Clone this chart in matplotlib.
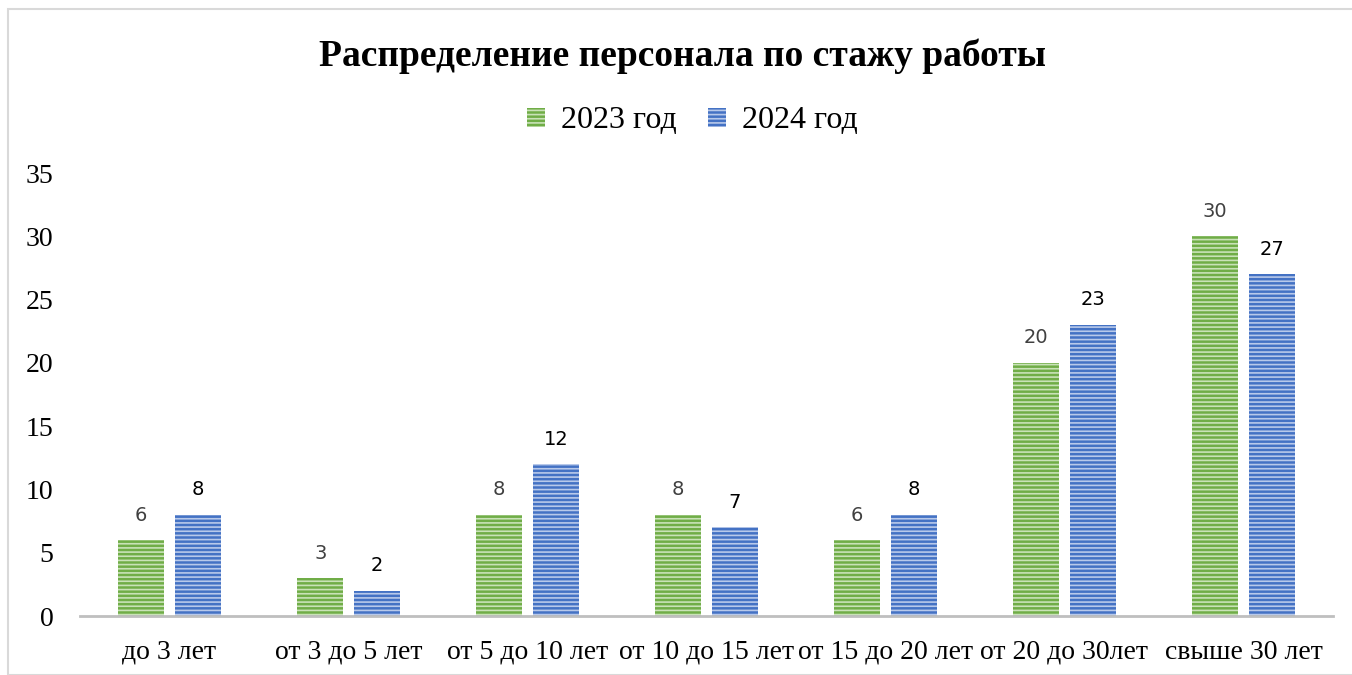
import numpy as np
import matplotlib
matplotlib.use("Agg")
import matplotlib.pyplot as plt
from matplotlib.patches import Rectangle, Patch

categories = ["до 3 лет", "от 3 до 5 лет", "от 5 до 10 лет", "от 10 до 15 лет",
              "от 15 до 20 лет", "от 20 до 30лет", "свыше 30 лет"]
values_2023 = [6, 3, 8, 8, 6, 20, 30]
values_2024 = [8, 2, 12, 7, 8, 23, 27]
series_names = ["2023 год", "2024 год"]
y_ticks = [0, 5, 10, 15, 20, 25, 30, 35]

GREEN = "#70ad47"
GREEN_LIGHT = "#c9e2b8"
BLUE = "#4472c4"
BLUE_LIGHT = "#b8c9ea"

plt.rcParams["hatch.linewidth"] = 1.2
serif = "Liberation Serif"

fig = plt.figure(figsize=(13.52, 6.75), dpi=100)
ax = fig.add_axes([80 / 1352, 59 / 675, 1253 / 1352, 443 / 675])

x = np.arange(len(categories))
width = 0.256
offset = 0.158

bars1 = ax.bar(x - offset, values_2023, width, color=GREEN, edgecolor=GREEN_LIGHT,
               linewidth=0, hatch="----")
bars2 = ax.bar(x + offset, values_2024, width, color=BLUE, edgecolor=BLUE_LIGHT,
               linewidth=0, hatch="----")

for bar, v in zip(bars1, values_2023):
    ax.annotate(str(v), (bar.get_x() + bar.get_width() / 2, v), xytext=(0, 18),
                textcoords="offset points", ha="center", va="center",
                fontsize=14, color="#404040", family="DejaVu Sans")
for bar, v in zip(bars2, values_2024):
    ax.annotate(str(v), (bar.get_x() + bar.get_width() / 2, v), xytext=(0, 18),
                textcoords="offset points", ha="center", va="center",
                fontsize=14, color="black", family="DejaVu Sans")

ax.set_xlim(-0.5, len(categories) - 0.5)
ax.set_ylim(0, 35)
ax.set_yticks(y_ticks)
ax.set_yticklabels([str(t) for t in y_ticks], family=serif, fontsize=20)
ax.set_xticks(x)
ax.set_xticklabels(categories, family=serif, fontsize=20)
ax.tick_params(axis="both", length=0)
ax.tick_params(axis="y", pad=19)
ax.tick_params(axis="x", pad=17)
for side in ["top", "right", "left"]:
    ax.spines[side].set_visible(False)
ax.spines["bottom"].set_color("#bfbfbf")
ax.spines["bottom"].set_linewidth(2)

fig.text(0.505, 1 - 56 / 675, "Распределение персонала по стажу работы",
         ha="center", va="center", family=serif, fontsize=27, fontweight="bold")

handles = [Patch(facecolor=GREEN, edgecolor=GREEN_LIGHT, linewidth=0, hatch="----"),
           Patch(facecolor=BLUE, edgecolor=BLUE_LIGHT, linewidth=0, hatch="----")]
fig.legend(handles, series_names, loc="center", bbox_to_anchor=(0.512, 1 - 121 / 675),
           ncol=2, frameon=False, prop={"family": serif, "size": 23},
           handlelength=0.55, handleheight=0.55, handletextpad=0.5, columnspacing=1.0)

fig.patches.append(Rectangle((8 / 1352, 0), 1, 1 - 9 / 675,
                             transform=fig.transFigure, fill=False,
                             edgecolor="#d9d9d9", linewidth=1.5))

fig.savefig("out.png", dpi=100)
